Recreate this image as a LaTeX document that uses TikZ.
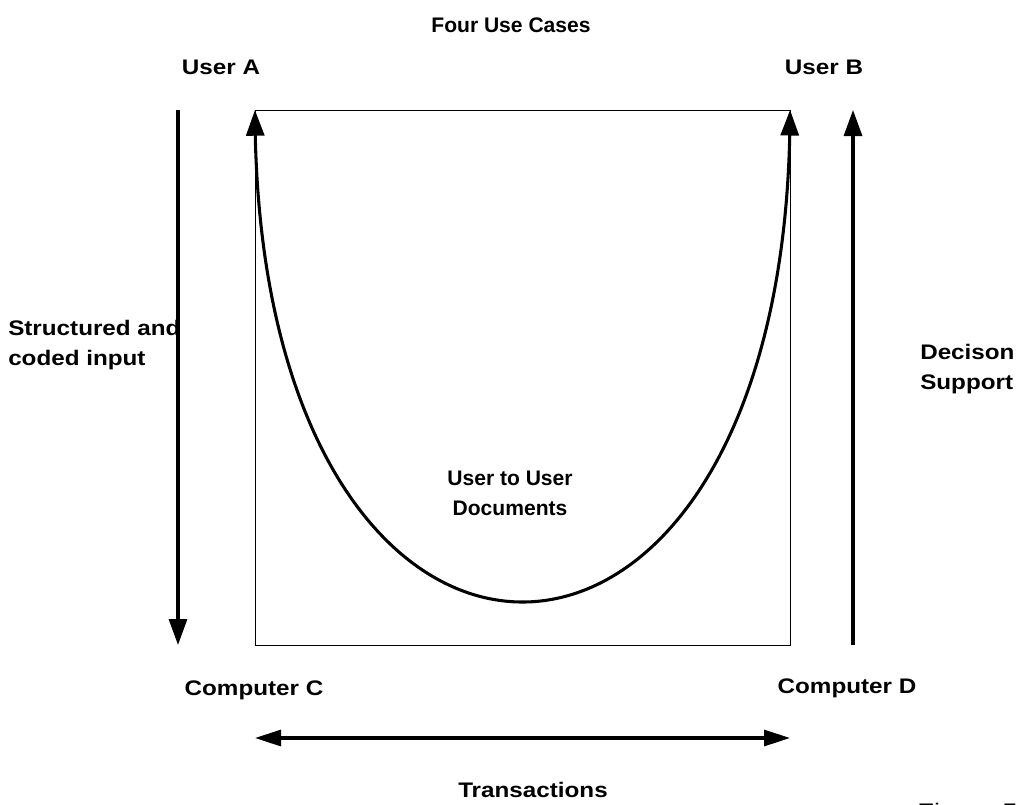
\documentclass[tikz,border=0pt]{standalone}
\usepackage{fontspec}
\setmainfont{Liberation Sans}
\newfontfamily\widesans[FakeStretch=1.15]{Liberation Sans}
\newfontfamily\figsans[FakeStretch=1.3]{Liberation Sans}
\usetikzlibrary{arrows.meta,bending}

\tikzset{
  lbl/.style={font=\bfseries\fontsize{15.8}{22.5}\selectfont, inner sep=0pt},
  wlbl/.style={font=\widesans\bfseries\fontsize{15.8}{22.5}\selectfont, inner sep=0pt},
  bigarrow/.style={line width=2.3pt, -{Triangle[length=19.5pt,width=13.5pt]}},
  bothways/.style={line width=2.3pt, {Triangle[length=19.5pt,width=12pt]}-{Triangle[length=19.5pt,width=12pt]}}
}

\begin{document}
\begin{tikzpicture}[x=0.75pt,y=-0.75pt]
  \useasboundingbox (0,0) rectangle (1021,804);

  % Corners of the square
  \coordinate (tl) at (255,110);
  \coordinate (tr) at (790,110);
  \coordinate (bl) at (255,645);
  \coordinate (br) at (790,645);
  \draw[line width=0.75pt] (tl) rectangle (br);

  % Labels
  \node[lbl] (title) at (511,25) {Four Use Cases};
  \node[wlbl] (usera) at (221,67) {User A};
  \node[wlbl] (userb) at (824,67) {User B};
  \node[wlbl] (compc) at (254,690) {Computer C};
  \node[wlbl] (compd) at (847,688) {Computer D};
  \node[wlbl] (trans) at (533,790) {Transactions};
  \node[wlbl, anchor=west, align=left] (struct) at (8,345) {Structured and\\coded input};
  \node[wlbl, anchor=west, align=left] (decis) at (920,369) {Decison\\Support};
  \node[lbl, align=center] (docs) at (510,493) {User to User\\Documents};
  \node[font=\figsans\fontsize{15.8}{19}\selectfont, anchor=base west, inner sep=0pt] (fig) at (917,818) {Figure 5};

  % Side arrows
  \coordinate (ltop) at (178,110);
  \coordinate (lbot) at (178,645);
  \coordinate (rtop) at (853,110);
  \coordinate (rbot) at (853,645);
  \draw[bigarrow] (ltop) -- (lbot);
  \draw[bigarrow] (rbot) -- (rtop);

  % Transactions arrow
  \coordinate (tleft) at (255,738);
  \coordinate (tright) at (790,738);
  \draw[bothways] (tleft) -- (tright);

  % User to user curve
  \draw[line width=2.3pt, {Triangle[length=19.5pt,width=13.5pt,bend]}-{Triangle[length=19.5pt,width=13.5pt,bend]}]
    (tl) .. controls (255,766) and (790,766) .. (tr);
\end{tikzpicture}
\end{document}
